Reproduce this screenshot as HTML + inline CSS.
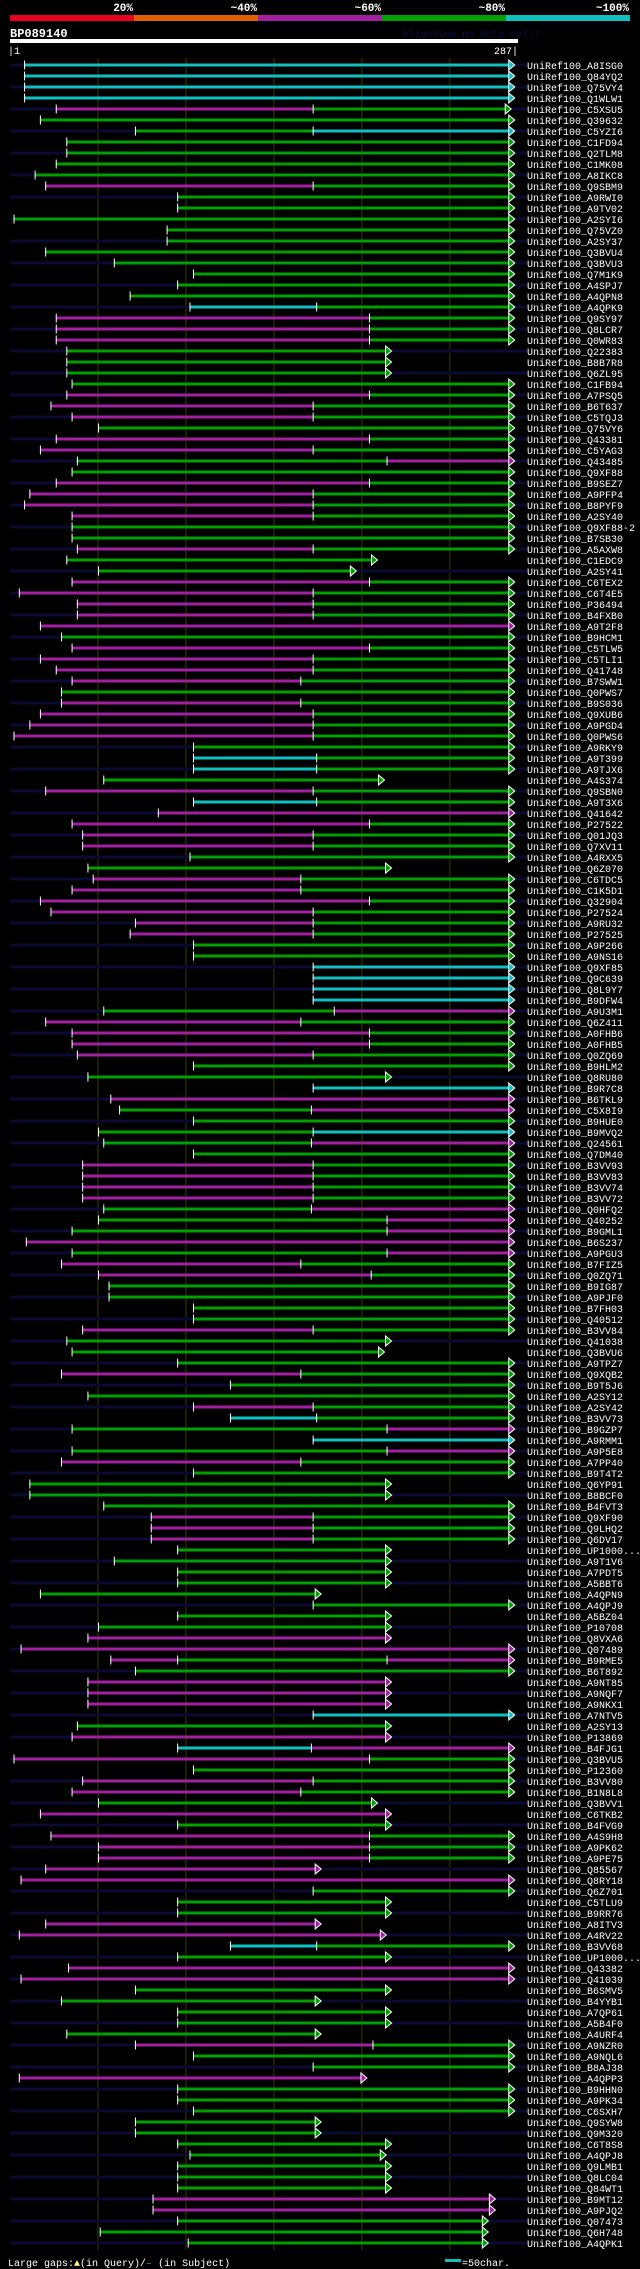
<!DOCTYPE html>
<html><head><meta charset="utf-8"><style>
html,body{margin:0;padding:0;background:#000;}
svg{display:block;}
text{font-family:"Liberation Mono",monospace;}
</style></head><body>
<svg id="chart" width="640" height="2269" viewBox="0 0 640 2269" xmlns="http://www.w3.org/2000/svg">
<rect x="0" y="0" width="640" height="2269" fill="#000"/>
<g font-weight="bold" font-size="11" fill="#fff" text-anchor="end">
<text x="133" y="11">20%</text><text x="257" y="11">~40%</text><text x="381" y="11">~60%</text><text x="505" y="11">~80%</text><text x="629" y="11">~100%</text>
</g>
<g>
<rect x="10" y="15" width="124" height="6" fill="#e8001c"/>
<rect x="134" y="15" width="124" height="6" fill="#e06000"/>
<rect x="258" y="15" width="124" height="6" fill="#a020a0"/>
<rect x="382" y="15" width="124" height="6" fill="#00a000"/>
<rect x="506" y="15" width="124" height="6" fill="#10c0c0"/>
</g>
<text x="10" y="37" font-size="12" font-weight="bold" fill="#fff">BP089140</text>
<text x="402" y="37" font-size="10" fill="#0c0c48">AlignView.pm Beta rel.7</text>
<rect x="10" y="39" width="508" height="4" fill="#fff"/>
<text x="8" y="54" font-size="10" fill="#fff">|1</text>
<text x="518" y="54" font-size="10" fill="#fff" text-anchor="end">287|</text>
<g id="grid"></g>
<g id="rows"></g>
<g font-size="10" fill="#fff">
<text x="8" y="2266">Large gaps:<tspan fill="#ffff80">▲</tspan>(in Query)/<tspan fill="#10c0c0">–</tspan> (in Subject)</text>
<rect x="445" y="2259" width="16" height="3" fill="#10c0c0"/>
<text x="462" y="2266">=50char.</text>
</g>
</svg>
<script>
const queryLen = 287;
const gridTicks = [50, 100, 150, 200, 250];
const names = ["A8ISG0","Q84YQ2","Q75VY4","Q1WLW1","C5XSU5","Q39632","C5YZI6","C1FD94","Q2TLM8","C1MK08","A8IKC8","Q9SBM9","A9RWI0","A9TV02","A2SYI6","Q75VZ0","A2SY37","Q3BVU4","Q3BVU3","Q7M1K9","A4SPJ7","A4QPN8","A4QPK9","Q9SY97","Q8LCR7","Q0WR83","Q22383","B8B7R8","Q6ZL95","C1FB94","A7PSQ5","B6T637","C5TQJ3","Q75VY6","Q43381","C5YAG3","Q43485","Q9XF88","B9SEZ7","A9PFP4","B8PYF9","A2SY40","Q9XF88-2","B7SB30","A5AXW8","C1EDC9","A2SY41","C6TEX2","C6T4E5","P36494","B4FXB0","A9T2F8","B9HCM1","C5TLW5","C5TLI1","Q41748","B7SWW1","Q0PWS7","B9S036","Q9XUB6","A9PGD4","Q0PWS6","A9RKY9","A9T399","A9TJX6","A4S374","Q9SBN0","A9T3X6","Q41642","P27522","Q01JQ3","Q7XV11","A4RXX5","Q6Z070","C6TDC5","C1K5D1","Q32904","P27524","A9RU32","P27525","A9P266","A9NS16","Q9XF85","Q9C639","Q8L9Y7","B9DFW4","A9U3M1","Q6Z411","A0FHB6","A0FHB5","Q0ZQ69","B9HLM2","Q8RU80","B9R7C8","B6TKL9","C5X8I9","B9HUE0","B9MVQ2","Q24561","Q7DM40","B3VV93","B3VV83","B3VV74","B3VV72","Q0HFQ2","Q40252","B9GML1","B6S237","A9PGU3","B7FIZ5","Q0ZQ71","B9IG87","A9PJF0","B7FH03","Q40512","B3VV84","Q41038","Q3BVU6","A9TPZ7","Q9XQB2","B9T5J6","A2SY12","A2SY42","B3VV73","B9GZP7","A9RMM1","A9P5E8","A7PP40","B9T4T2","Q6YP91","B8BCF0","B4FVT3","Q9XF90","Q9LHQ2","Q6DV17","UP1000...","A9T1V6","A7PDT5","A5BBT6","A4QPN9","A4QPJ9","A5BZ04","P10708","Q8VXA6","Q07489","B9RME5","B6T892","A9NT85","A9NQF7","A9NKX1","A7NTV5","A2SY13","P13869","B4FJG1","Q3BVU5","P12360","B3VV80","B1N8L8","Q3BVV1","C6TKB2","B4FVG9","A4S9H8","A9PK62","A9PE75","Q85567","Q8RY18","Q6Z701","C5TLU9","B9RR76","A8ITV3","A4RV22","B3VV68","UP1000...","Q43382","Q41039","B6SMV5","B4YYB1","A7QP61","A5B4F0","A4URF4","A9NZR0","A9NQL6","B8AJ38","A4QPP3","B9HHN0","A9PK34","C6SXH7","Q9SYW8","Q9M320","C6T8S8","A4QPJ8","Q9LMB1","Q8LC04","Q84WT1","B9MT12","A9PJQ2","Q07473","Q6H748","A4QPK1"];
const starts = [8,8,8,8,26,17,71,32,32,26,14,20,95,95,2,89,89,20,59,104,95,68,102,26,26,26,32,32,32,35,32,23,35,50,26,17,38,35,26,11,8,35,35,35,38,32,50,35,5,38,38,17,29,35,17,26,35,29,29,17,11,2,104,104,104,53,20,104,84,35,41,41,102,44,47,35,17,23,71,68,104,104,172,172,172,172,53,20,35,35,38,104,44,172,57,62,104,50,53,104,41,41,41,41,53,50,35,9,35,29,50,56,56,104,104,41,32,35,95,29,125,44,104,125,35,172,35,29,104,11,11,53,80,80,80,95,59,95,95,17,172,95,50,44,6,57,71,44,44,44,172,38,35,95,2,104,41,35,50,17,95,23,50,50,20,6,172,95,95,20,5,125,95,33,6,71,29,95,95,32,71,104,172,5,95,95,104,71,71,95,102,95,95,95,81,81,95,51,101];
const segs = ["c284","c284","c284","c284","m172 g282","g284","g172 c284","g284","g284","g284","g284","m172 g284","g284","g284","g284","g284","g284","g284","g284","g284","g284","g284","c174 g284","m204 g284","m204 g284","m204 g284","g214","g214","g214","g284","m204 g284","m172 g284","m172 g284","g284","m204 g284","m172 g284","g214 m284","g284","m204 g284","m172 g284","m172 g284","m172 g284","g284","g284","m172 g284","g206","g194","m204 g284","m172 g284","m172 g284","m172 g284","m284","g284","m204 g284","m172 g284","m172 g284","m165 g284","g284","m165 g284","m172 g284","m172 g284","m172 g284","g284","c174 g284","c174 g284","g210","m172 g284","c174 g284","m284","m204 g284","m172 g284","m172 g284","g284","g214","m165 g284","m165 g284","m204 g284","m172 g284","m172 g284","m172 g284","g284","g284","c284","c284","c284","c284","g184 m284","m165 g284","m204 g284","m204 g284","m172 g284","g284","g214","c284","m284","g171 m284","g284","g172 c284","g171 m284","g284","m172 g284","m172 g284","m172 g284","m172 g284","g171 m284","g214 m284","g214 m284","m284","g214 m284","m165 g284","m205 g284","g284","g284","g284","g284","m172 g284","g214","g210","g284","m165 g284","g284","g284","m172 g284","c174 g284","g214 m284","c284","g214 m284","m165 g284","g284","g214","g214","g284","m172 g284","m172 g284","m172 g284","g214","g214","g214","g214","g174","g284","g214","g214","m214","m284","m95 g214 m284","g284","m214","m214","m214","c284","g214","m214","c171 m284","m204 g284","g284","m172 g284","m165 g284","g206","m214","g214","m204 g284","m204 g284","m204 g284","m174","m284","g284","g214","g214","m174","m211","c174 g284","g214","m284","m284","g214","g174","g214","g214","g174","m206 g284","g284","g284","m200","g284","g284","g284","g174","g174","g214","g211","g214","g214","g214","m273","m273","g269","g269","g269"];

const NS = "http://www.w3.org/2000/svg";
const COLORS = {c:"#10c0c0", g:"#00a000", m:"#a020a0"};
const X0 = 10, X1 = 515;
function xs(r){ return X0 + r * (X1 - X0) / queryLen; }
function rowY(i){ return 65 + 11 * i; }
function mk(tag, attrs, parent){
  const e = document.createElementNS(NS, tag);
  for (const k in attrs) e.setAttribute(k, attrs[k]);
  parent.appendChild(e);
  return e;
}
const grid = document.getElementById("grid");
gridTicks.forEach(t => {
  const l = mk("line", {x1: xs(t), x2: xs(t), y1: 58, y2: 2250, stroke: "#3a3a12", "stroke-width": 1}, grid);
  
  
});
const rowsG = document.getElementById("rows");
names.forEach((nm, i) => {
  const y = rowY(i);
  const g = mk("g", {}, rowsG);
  
  
  if (i % 2 === 0) {
    const bg = mk("rect", {x: 10, y: y - 1.5, width: 517, height: 3, fill: "#0a0a33"}, g);
    
    
  }
  let cur = starts[i];
  const parts = segs[i].split(" ");
  let lastColor = "#00a000";
  parts.forEach((p, k) => {
    const col = COLORS[p[0]];
    const end = +p.slice(1);
    const s = mk("rect", {x: xs(cur), y: y - 1.5, width: Math.max(0, xs(end) - xs(cur)), height: 3, fill: col}, g);
    
    
    const t = mk("line", {x1: xs(cur) + 0.5, x2: xs(cur) + 0.5, y1: y - 4.5, y2: y + 4.5, stroke: "#fff", "stroke-width": 1}, g);
    
    
    cur = end;
    lastColor = col;
  });
  const xe = xs(cur);
  const tri = mk("polygon", {points: (xe-1)+","+(y-5)+" "+(xe+5)+","+y+" "+(xe-1)+","+(y+5), fill: lastColor, stroke: "#fff", "stroke-width": 1}, g);
  
  
  const lb = mk("text", {x: 527, y: y + 4, "font-size": 10, fill: "#fff"}, g);
  
  
  lb.textContent = "UniRef100_" + nm;
});
</script>
</body></html>
